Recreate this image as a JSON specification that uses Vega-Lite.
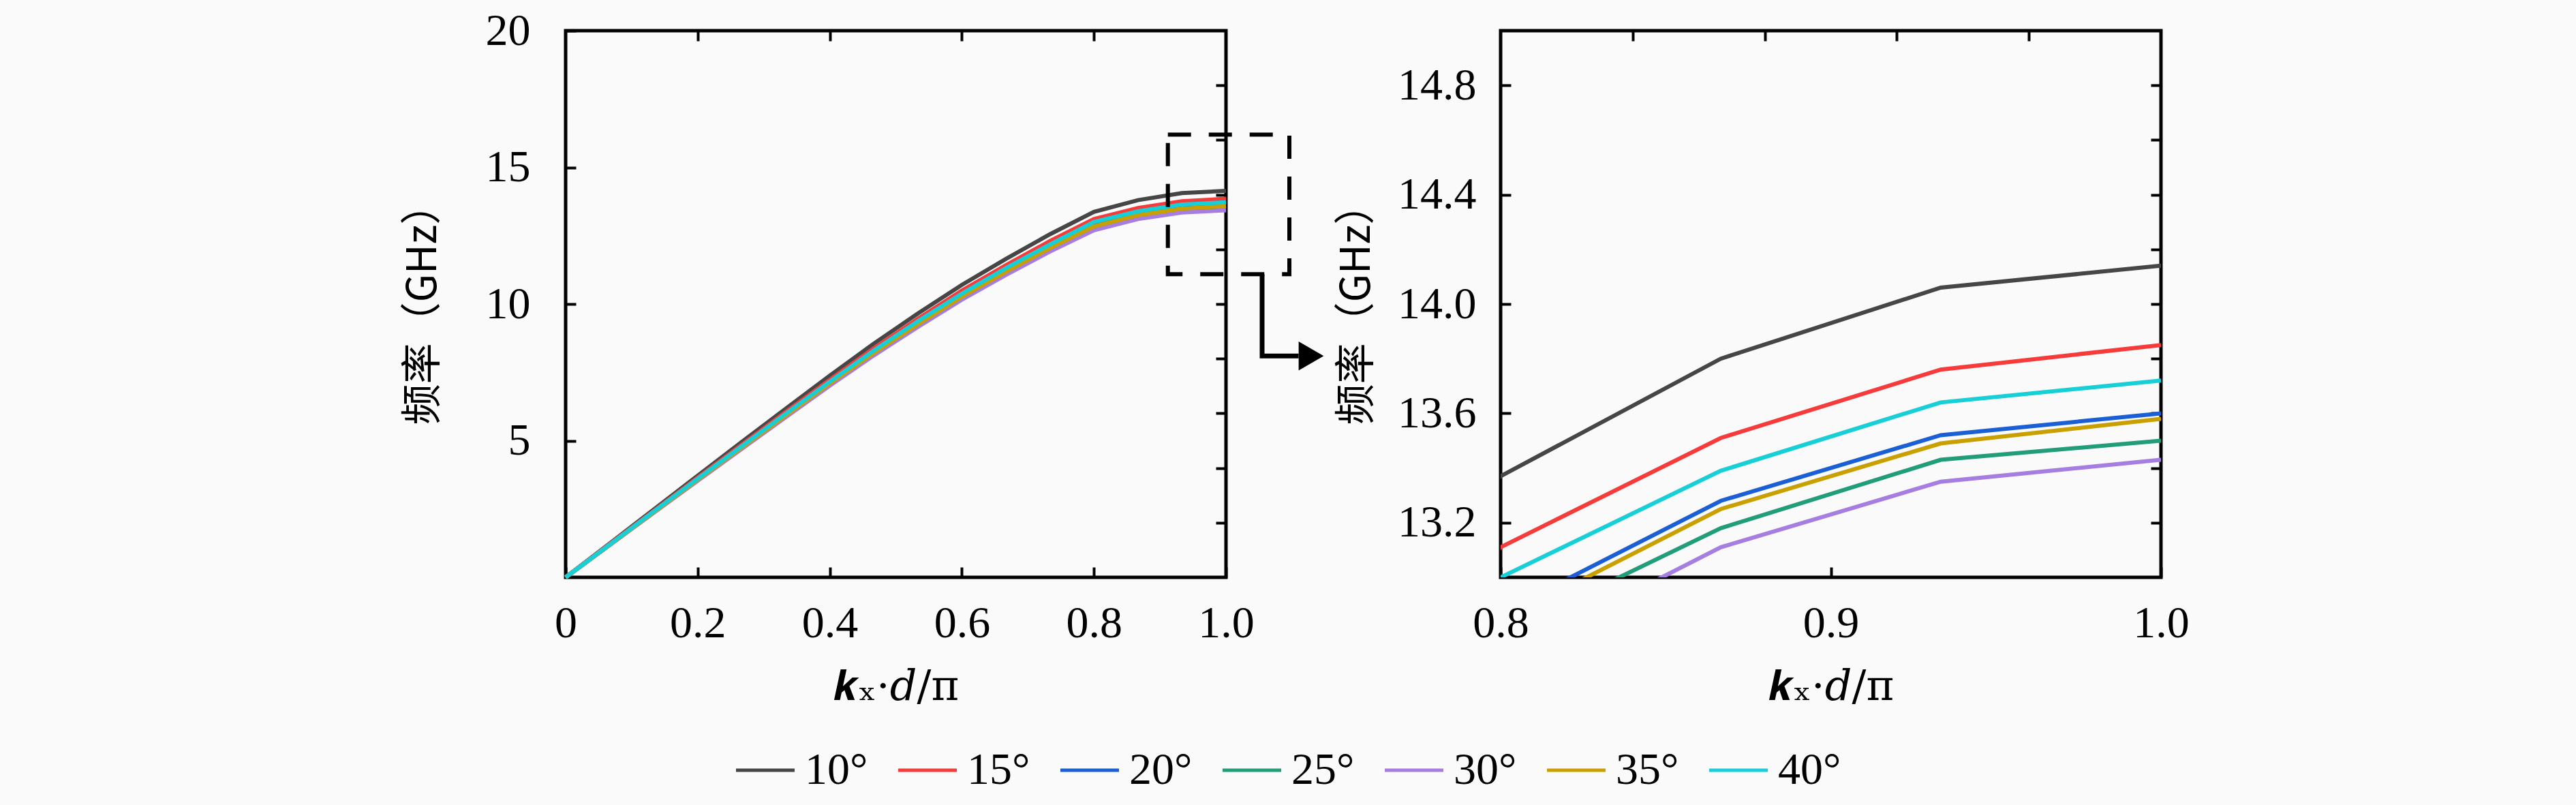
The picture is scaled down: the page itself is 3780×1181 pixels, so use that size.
{
  "$schema": "https://vega.github.io/schema/vega-lite/v5.json",
  "background": "#fafafa",
  "padding": {"left": 588, "top": 9, "right": 620, "bottom": 40},
  "bounds": "flush",
  "spacing": 403,
  "datasets": {
    "disp": [
      {"k": 0, "f": 0, "a": "10°"}, {"k": 0.0667, "f": 1.24, "a": "10°"}, {"k": 0.1333, "f": 2.48, "a": "10°"}, {"k": 0.2, "f": 3.72, "a": "10°"},
      {"k": 0.2667, "f": 4.95, "a": "10°"}, {"k": 0.3333, "f": 6.17, "a": "10°"}, {"k": 0.4, "f": 7.38, "a": "10°"}, {"k": 0.4667, "f": 8.55, "a": "10°"},
      {"k": 0.5333, "f": 9.65, "a": "10°"}, {"k": 0.6, "f": 10.70, "a": "10°"}, {"k": 0.6667, "f": 11.65, "a": "10°"}, {"k": 0.7333, "f": 12.55, "a": "10°"},
      {"k": 0.8, "f": 13.37, "a": "10°"}, {"k": 0.8667, "f": 13.80, "a": "10°"}, {"k": 0.9333, "f": 14.06, "a": "10°"}, {"k": 1, "f": 14.14, "a": "10°"},

      {"k": 0, "f": 0, "a": "15°"}, {"k": 0.0667, "f": 1.22, "a": "15°"}, {"k": 0.1333, "f": 2.43, "a": "15°"}, {"k": 0.2, "f": 3.65, "a": "15°"},
      {"k": 0.2667, "f": 4.85, "a": "15°"}, {"k": 0.3333, "f": 6.05, "a": "15°"}, {"k": 0.4, "f": 7.23, "a": "15°"}, {"k": 0.4667, "f": 8.38, "a": "15°"},
      {"k": 0.5333, "f": 9.46, "a": "15°"}, {"k": 0.6, "f": 10.49, "a": "15°"}, {"k": 0.6667, "f": 11.42, "a": "15°"}, {"k": 0.7333, "f": 12.30, "a": "15°"},
      {"k": 0.8, "f": 13.11, "a": "15°"}, {"k": 0.8667, "f": 13.51, "a": "15°"}, {"k": 0.9333, "f": 13.76, "a": "15°"}, {"k": 1, "f": 13.85, "a": "15°"},

      {"k": 0, "f": 0, "a": "20°"}, {"k": 0.0667, "f": 1.19, "a": "20°"}, {"k": 0.1333, "f": 2.39, "a": "20°"}, {"k": 0.2, "f": 3.58, "a": "20°"},
      {"k": 0.2667, "f": 4.76, "a": "20°"}, {"k": 0.3333, "f": 5.94, "a": "20°"}, {"k": 0.4, "f": 7.10, "a": "20°"}, {"k": 0.4667, "f": 8.23, "a": "20°"},
      {"k": 0.5333, "f": 9.28, "a": "20°"}, {"k": 0.6, "f": 10.29, "a": "20°"}, {"k": 0.6667, "f": 11.21, "a": "20°"}, {"k": 0.7333, "f": 12.07, "a": "20°"},
      {"k": 0.8, "f": 12.87, "a": "20°"}, {"k": 0.8667, "f": 13.28, "a": "20°"}, {"k": 0.9333, "f": 13.52, "a": "20°"}, {"k": 1, "f": 13.60, "a": "20°"},

      {"k": 0, "f": 0, "a": "25°"}, {"k": 0.0667, "f": 1.18, "a": "25°"}, {"k": 0.1333, "f": 2.37, "a": "25°"}, {"k": 0.2, "f": 3.55, "a": "25°"},
      {"k": 0.2667, "f": 4.73, "a": "25°"}, {"k": 0.3333, "f": 5.89, "a": "25°"}, {"k": 0.4, "f": 7.05, "a": "25°"}, {"k": 0.4667, "f": 8.17, "a": "25°"},
      {"k": 0.5333, "f": 9.22, "a": "25°"}, {"k": 0.6, "f": 10.22, "a": "25°"}, {"k": 0.6667, "f": 11.13, "a": "25°"}, {"k": 0.7333, "f": 11.99, "a": "25°"},
      {"k": 0.8, "f": 12.79, "a": "25°"}, {"k": 0.8667, "f": 13.18, "a": "25°"}, {"k": 0.9333, "f": 13.43, "a": "25°"}, {"k": 1, "f": 13.50, "a": "25°"},

      {"k": 0, "f": 0, "a": "30°"}, {"k": 0.0667, "f": 1.18, "a": "30°"}, {"k": 0.1333, "f": 2.36, "a": "30°"}, {"k": 0.2, "f": 3.53, "a": "30°"},
      {"k": 0.2667, "f": 4.70, "a": "30°"}, {"k": 0.3333, "f": 5.86, "a": "30°"}, {"k": 0.4, "f": 7.01, "a": "30°"}, {"k": 0.4667, "f": 8.12, "a": "30°"},
      {"k": 0.5333, "f": 9.16, "a": "30°"}, {"k": 0.6, "f": 10.16, "a": "30°"}, {"k": 0.6667, "f": 11.06, "a": "30°"}, {"k": 0.7333, "f": 11.92, "a": "30°"},
      {"k": 0.8, "f": 12.70, "a": "30°"}, {"k": 0.8667, "f": 13.11, "a": "30°"}, {"k": 0.9333, "f": 13.35, "a": "30°"}, {"k": 1, "f": 13.43, "a": "30°"},

      {"k": 0, "f": 0, "a": "35°"}, {"k": 0.0667, "f": 1.19, "a": "35°"}, {"k": 0.1333, "f": 2.38, "a": "35°"}, {"k": 0.2, "f": 3.57, "a": "35°"},
      {"k": 0.2667, "f": 4.75, "a": "35°"}, {"k": 0.3333, "f": 5.92, "a": "35°"}, {"k": 0.4, "f": 7.09, "a": "35°"}, {"k": 0.4667, "f": 8.21, "a": "35°"},
      {"k": 0.5333, "f": 9.26, "a": "35°"}, {"k": 0.6, "f": 10.27, "a": "35°"}, {"k": 0.6667, "f": 11.18, "a": "35°"}, {"k": 0.7333, "f": 12.05, "a": "35°"},
      {"k": 0.8, "f": 12.84, "a": "35°"}, {"k": 0.8667, "f": 13.25, "a": "35°"}, {"k": 0.9333, "f": 13.49, "a": "35°"}, {"k": 1, "f": 13.58, "a": "35°"},

      {"k": 0, "f": 0, "a": "40°"}, {"k": 0.0667, "f": 1.20, "a": "40°"}, {"k": 0.1333, "f": 2.41, "a": "40°"}, {"k": 0.2, "f": 3.61, "a": "40°"},
      {"k": 0.2667, "f": 4.80, "a": "40°"}, {"k": 0.3333, "f": 5.99, "a": "40°"}, {"k": 0.4, "f": 7.16, "a": "40°"}, {"k": 0.4667, "f": 8.30, "a": "40°"},
      {"k": 0.5333, "f": 9.37, "a": "40°"}, {"k": 0.6, "f": 10.38, "a": "40°"}, {"k": 0.6667, "f": 11.31, "a": "40°"}, {"k": 0.7333, "f": 12.18, "a": "40°"},
      {"k": 0.8, "f": 13.00, "a": "40°"}, {"k": 0.8667, "f": 13.39, "a": "40°"}, {"k": 0.9333, "f": 13.64, "a": "40°"}, {"k": 1, "f": 13.72, "a": "40°"}
    ],
    "box": [{"x1": 0.912, "x2": 1.096, "y1": 11.09, "y2": 16.2}],
    "arrow": [
      {"ax": 1.0547, "ay": 11.09, "o": 1},
      {"ax": 1.0547, "ay": 8.1, "o": 2},
      {"ax": 1.11, "ay": 8.1, "o": 3}
    ],
    "head": [{"ax": 1.129, "ay": 8.1}]
  },
  "hconcat": [
    {
      "width": 969,
      "height": 802,
      "layer": [
        {
          "data": {"name": "disp"},
          "mark": {"type": "line", "strokeWidth": 6},
          "encoding": {
            "x": {
              "field": "k", "type": "quantitative",
              "scale": {"domain": [0, 1], "nice": false},
              "axis": {
                "orient": "bottom", "values": [0, 0.2, 0.4, 0.6, 0.8, 1],
                "labelExpr": "datum.value == 0 ? '0' : format(datum.value, '.1f')",
                "title": "𝒌ₓ·𝑑/π", "labelPadding": 50, "titlePadding": 30
              }
            },
            "y": {
              "field": "f", "type": "quantitative",
              "scale": {"domain": [0, 20], "nice": false},
              "axis": {
                "orient": "left", "values": [5, 10, 15, 20], "format": "d",
                "title": "频率（GHz）", "labelPadding": 67, "titlePadding": 60
              }
            },
            "color": {
              "field": "a", "type": "nominal",
              "scale": {
                "domain": ["10°", "15°", "20°", "25°", "30°", "35°", "40°"],
                "range": ["#464646", "#f73a3a", "#1a5fd6", "#229d7a", "#a67de0", "#c9a000", "#17cfd6"]
              },
              "legend": {"title": null}
            }
          }
        },
        {
          "data": {"name": "box"},
          "mark": {"type": "rect", "filled": false, "stroke": "black", "strokeWidth": 6, "strokeDash": [34, 26]},
          "encoding": {
            "x": {
              "field": "x1", "type": "quantitative",
              "axis": {"orient": "top", "values": [0.2, 0.4, 0.6, 0.8], "labels": false, "title": null}
            },
            "x2": {"field": "x2"},
            "y": {
              "field": "y1", "type": "quantitative",
              "axis": {"orient": "right", "values": [2, 4, 6, 8, 10, 12, 14, 16, 18], "labels": false, "title": null}
            },
            "y2": {"field": "y2"}
          }
        },
        {
          "data": {"name": "arrow"},
          "mark": {"type": "line", "color": "black", "strokeWidth": 7, "strokeJoin": "miter"},
          "encoding": {
            "x": {"field": "ax", "type": "quantitative", "axis": null},
            "y": {"field": "ay", "type": "quantitative", "axis": null},
            "order": {"field": "o"}
          }
        },
        {
          "data": {"name": "head"},
          "mark": {"type": "point", "shape": "triangle-right", "filled": true, "color": "black", "size": 1800, "opacity": 1},
          "encoding": {
            "x": {"field": "ax", "type": "quantitative", "axis": null},
            "y": {"field": "ay", "type": "quantitative", "axis": null}
          }
        }
      ],
      "resolve": {"axis": {"x": "independent", "y": "independent"}}
    },
    {
      "width": 969,
      "height": 802,
      "data": {"name": "disp"},
      "layer": [
        {
          "mark": {"type": "line", "strokeWidth": 6, "clip": true},
          "encoding": {
            "x": {
              "field": "k", "type": "quantitative",
              "scale": {"domain": [0.8, 1], "nice": false},
              "axis": {
                "orient": "bottom", "values": [0.8, 0.9, 1.0], "format": ".1f",
                "title": "𝒌ₓ·𝑑/π", "labelPadding": 50, "titlePadding": 30
              }
            },
            "y": {
              "field": "f", "type": "quantitative",
              "scale": {"domain": [13, 15], "nice": false, "zero": false},
              "axis": {
                "orient": "left", "values": [13.2, 13.6, 14.0, 14.4, 14.8], "format": ".1f",
                "title": "频率（GHz）", "labelPadding": 51, "titlePadding": 28
              }
            },
            "color": {"field": "a", "type": "nominal", "legend": {"title": null}}
          }
        },
        {
          "mark": {"type": "point", "opacity": 0, "clip": true},
          "encoding": {
            "x": {
              "field": "k", "type": "quantitative",
              "axis": {"orient": "top", "values": [0.84, 0.88, 0.92, 0.96], "labels": false, "title": null}
            },
            "y": {
              "field": "f", "type": "quantitative",
              "axis": {"orient": "right", "values": [13.2, 13.4, 13.6, 13.8, 14.0, 14.2, 14.4, 14.6, 14.8], "labels": false, "title": null}
            }
          }
        }
      ],
      "resolve": {"axis": {"x": "independent", "y": "independent"}}
    }
  ],
  "config": {
    "font": "Liberation Serif",
    "view": {"stroke": "black", "strokeWidth": 5},
    "axis": {
      "domain": false,
      "grid": false,
      "ticks": true,
      "tickColor": "black",
      "tickWidth": 4,
      "tickSize": -15,
      "labelFlush": false,
      "labelFont": "Liberation Serif",
      "labelFontSize": 66,
      "labelColor": "black",
      "titleFont": "Noto Sans CJK SC",
      "titleFontSize": 60,
      "titleFontWeight": "normal",
      "titleColor": "black"
    },
    "axisBottom": {"titleFont": "DejaVu Serif", "titleFontSize": 62},
    "legend": {
      "orient": "none",
      "legendX": 247,
      "legendY": 1039,
      "direction": "horizontal",
      "columns": 7,
      "symbolType": "stroke",
      "symbolSize": 7400,
      "symbolStrokeWidth": 5,
      "labelFont": "Liberation Serif",
      "labelFontSize": 66,
      "labelColor": "black",
      "labelOffset": 12,
      "columnPadding": 33
    }
  }
}
